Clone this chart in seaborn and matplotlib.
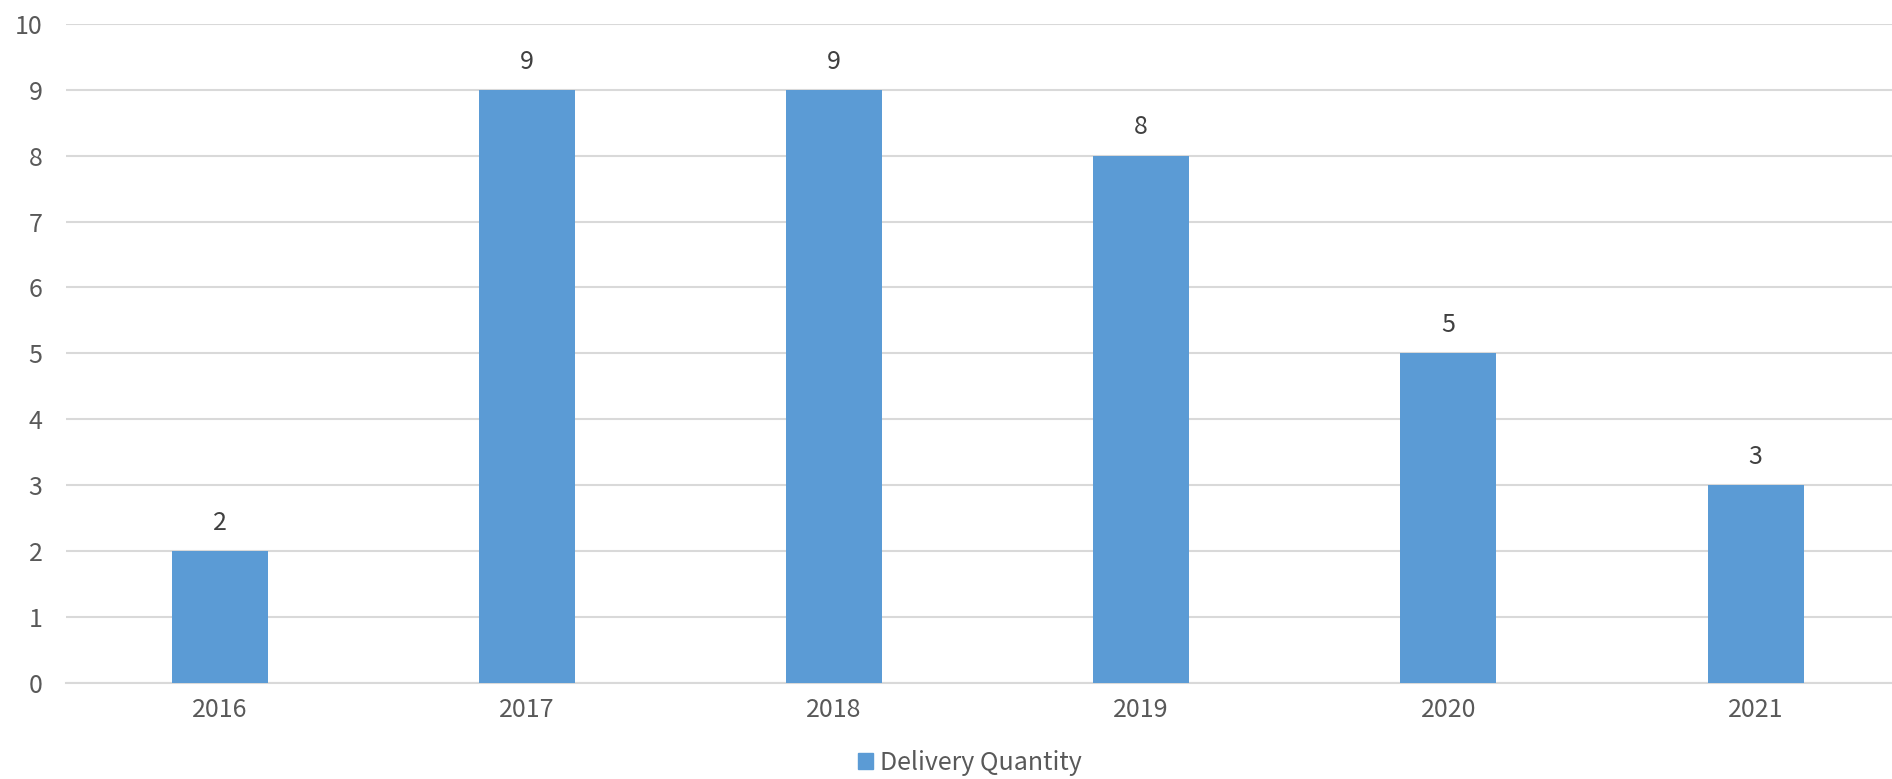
import pandas as pd
import matplotlib.pyplot as plt
import matplotlib.patches as mpatches
import seaborn as sns

years = ['2016', '2017', '2018', '2019', '2020', '2021']
quantity = [2, 9, 9, 8, 5, 3]
series_name = 'Delivery Quantity'

df = pd.DataFrame({'year': years, 'quantity': quantity})

sns.set_style('white')
plt.rcParams['font.family'] = ['Noto Sans CJK SC', 'DejaVu Sans']

bar_color = '#5B9BD5'
text_color = '#595959'
grid_color = '#D9D9D9'

fig = plt.figure(figsize=(18.92, 7.79), dpi=100)
ax = fig.add_axes([0.0349, 0.1236, 0.9651, 0.8456])

sns.barplot(data=df, x='year', y='quantity', color=bar_color, width=0.3125,
            saturation=1, linewidth=0, edgecolor='none', ax=ax, zorder=3)

# value labels above each bar
for i, v in enumerate(quantity):
    ax.annotate(str(v), (i, v), xytext=(0, 11), textcoords='offset points',
                ha='center', va='bottom', fontsize=18, color='#404040')

ax.set_ylim(0, 10)
ax.set_xlim(-0.5, 5.444)
ax.set_yticks(range(0, 11))
ax.yaxis.grid(True, color=grid_color, linewidth=1.5, zorder=0)
ax.set_axisbelow(True)
for s in ['top', 'right', 'left']:
    ax.spines[s].set_visible(False)
ax.spines['bottom'].set_color(grid_color)
ax.spines['bottom'].set_linewidth(1.5)
ax.tick_params(axis='both', length=0, labelsize=18, colors=text_color)
ax.tick_params(axis='y', pad=17)
ax.tick_params(axis='x', pad=10)
ax.set_xlabel('')
ax.set_ylabel('')

handle = mpatches.Patch(color=bar_color, label=series_name)
fig.legend(handles=[handle], loc='center', bbox_to_anchor=(970 / 1892, 1 - 763 / 779),
           frameon=False, fontsize=18, labelcolor=text_color, handlelength=0.6,
           handleheight=0.6, handletextpad=0.3)

plt.savefig('out.png', dpi=100)
plt.close()
